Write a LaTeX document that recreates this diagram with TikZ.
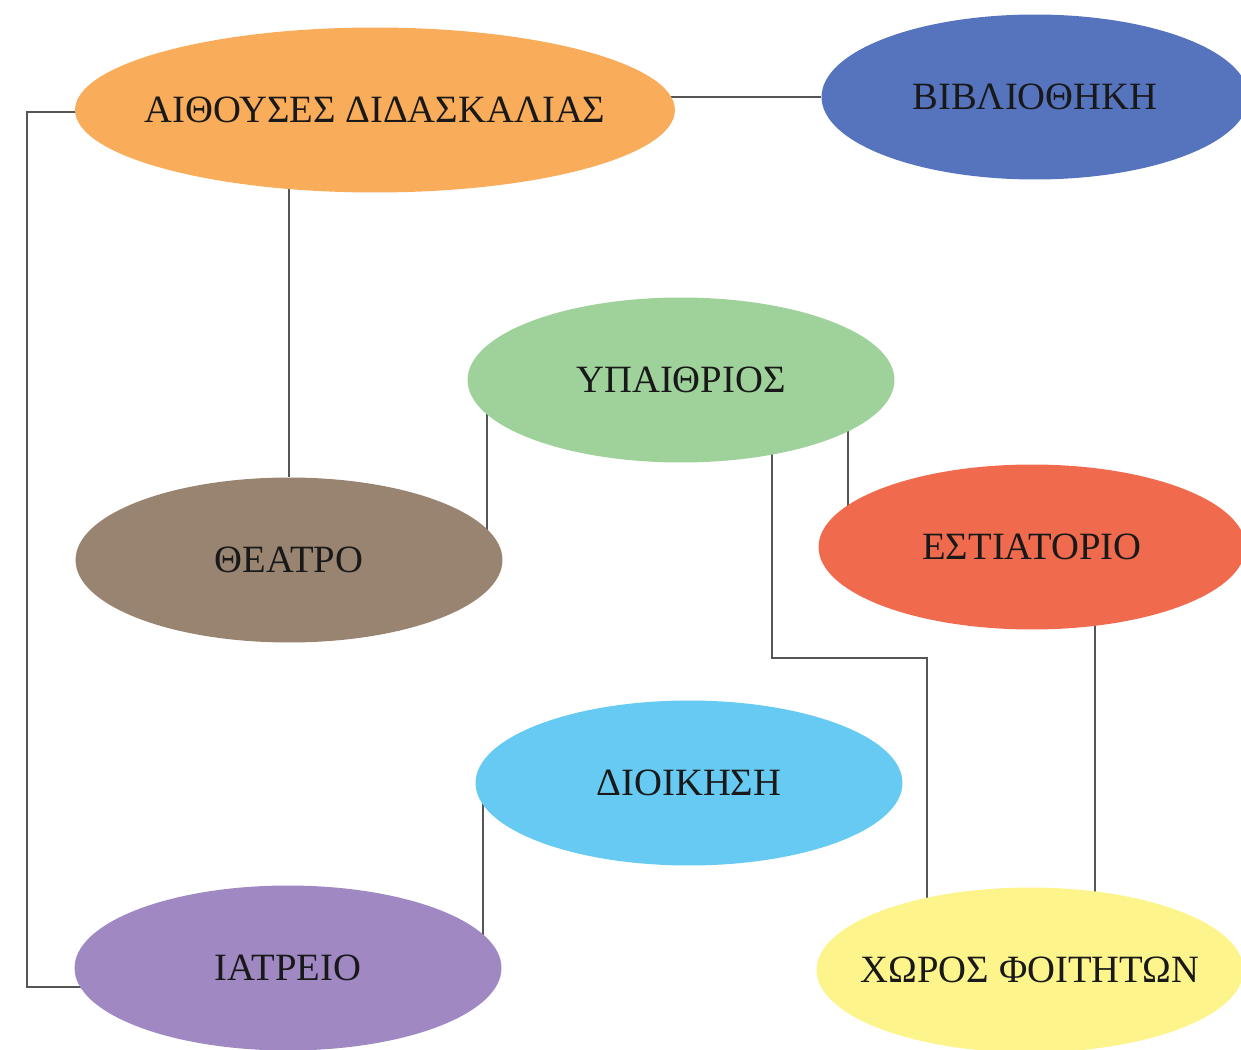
\documentclass[tikz,border=0pt]{standalone}
\usepackage{fontspec}
\setmainfont{Liberation Serif}
\usetikzlibrary{positioning, shapes, calc}
\usetikzlibrary{backgrounds}

\definecolor{aithcol}{RGB}{249,172,90}
\definecolor{biblcol}{RGB}{86,115,190}
\definecolor{ypaicol}{RGB}{159,210,155}
\definecolor{theacol}{RGB}{153,132,114}
\definecolor{esticol}{RGB}{240,107,78}
\definecolor{dioicol}{RGB}{102,202,242}
\definecolor{iatrcol}{RGB}{160,136,194}
\definecolor{xorocol}{RGB}{253,244,140}
\definecolor{linecol}{RGB}{85,85,85}

\begin{document}
\begin{tikzpicture}[x=0.02cm, y=-0.02cm,
        place/.style={ellipse, inner sep=0pt, minimum width=8.54cm, minimum height=3.3cm, text=black!90, font=\fontsize{22}{26}\selectfont},
        edge/.style={draw=linecol, line width=1.1pt}]
            \useasboundingbox (0,0) rectangle (1241,1050);

            \node[place, fill=aithcol, minimum width=12cm] (aith) at (375,110) {\makebox[0pt]{ΑΙΘΟΥΣΕΣ ΔΙΔΑΣΚΑΛΙΑΣ}};
            \node[place, fill=biblcol] (bibl) at (1035,97) {\makebox[0pt]{ΒΙΒΛΙΟΘΗΚΗ}};
            \node[place, fill=ypaicol] (ypai) at (681,380) {\makebox[0pt]{ΥΠΑΙΘΡΙΟΣ}};
            \node[place, fill=theacol] (thea) at (289,560) {\makebox[0pt]{ΘΕΑΤΡΟ}};
            \node[place, fill=esticol] (esti) at (1032,547) {\makebox[0pt]{ΕΣΤΙΑΤΟΡΙΟ}};
            \node[place, fill=dioicol] (dioi) at (689,783) {\makebox[0pt]{ΔΙΟΙΚΗΣΗ}};
            \node[place, fill=iatrcol] (iatr) at (288,968) {\makebox[0pt]{ΙΑΤΡΕΙΟ}};
            \node[place, fill=xorocol] (xoro) at (1030,970) {\makebox[0pt]{ΧΩΡΟΣ ΦΟΙΤΗΤΩΝ}};

            % Bend points
            \coordinate (l1) at (27,112);
            \coordinate (l2) at (27,987);
            \coordinate (m1) at (772,658);
            \coordinate (m2) at (927,658);

            % Draw edges
            \begin{scope}[on background layer]
                \draw[edge] (aith |- bibl) -- (bibl);
                \draw[edge] (aith |- l1) -- (l1) -- (l2) -- (iatr |- l2);
                \draw[edge] (aith -| thea) -- (thea);
                \draw[edge] ($(ypai)+(-194,0)$) -- ($(thea)+(198,0)$);
                \draw[edge] ($(ypai)+(167,0)$) -- ($(esti)+(-184,0)$);
                \draw[edge] ($(ypai)+(91,0)$) -- (m1) -- (m2) -- ($(xoro)+(-103,0)$);
                \draw[edge] ($(esti)+(63,0)$) -- ($(xoro)+(65,0)$);
                \draw[edge] ($(dioi)+(-206,0)$) -- ($(iatr)+(195,0)$);
            \end{scope}

        \end{tikzpicture}
\end{document}
